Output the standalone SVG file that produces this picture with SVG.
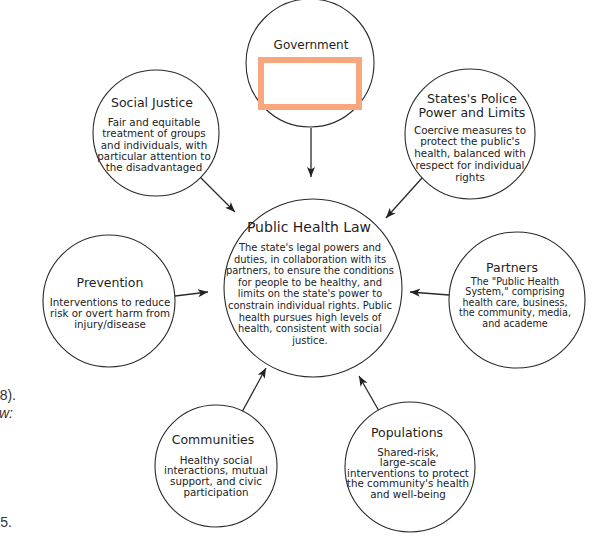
<svg xmlns="http://www.w3.org/2000/svg" width="592" height="541" viewBox="0 0 592 541">
<style>
.c{fill:#fff;stroke:#2a2a2a;stroke-width:1.1}
.t{font-family:"DejaVu Sans",sans-serif;font-size:12.5px;fill:#1e1e1e;text-anchor:middle}
.b{font-family:"DejaVu Sans",sans-serif;font-size:10.3px;fill:#222;text-anchor:middle}
.ct{font-size:14px}
.cb{font-size:9.9px}
.pb{font-size:9.6px}
.e{fill:none;stroke:#2a2a2a;stroke-width:1.3;marker-end:url(#ah)}
.s{font-family:"Liberation Sans",Arial,sans-serif;font-size:14px;fill:#333;text-anchor:end}
</style>
<defs>
<marker id="ah" markerUnits="userSpaceOnUse" markerWidth="11" markerHeight="9" refX="10" refY="4.5" orient="auto">
<path d="M0,0.5 L10,4.5 L0,8.5 L2.5,4.5 z" fill="#222"/>
</marker>
</defs>
<rect width="592" height="541" fill="#fff"/>
<g id="connectors">
<line class="e" x1="311" y1="128" x2="311" y2="177"/>
<line class="e" x1="200" y1="177" x2="235" y2="212"/>
<line class="e" x1="422" y1="178" x2="386" y2="218"/>
<line class="e" x1="175" y1="296" x2="208" y2="292"/>
<line class="e" x1="449" y1="295" x2="410" y2="292"/>
<line class="e" x1="242" y1="412" x2="266" y2="368"/>
<line class="e" x1="379" y1="411" x2="359" y2="376"/>
</g>
<g id="government">
<circle class="c" cx="310" cy="63" r="64"/>
<text class="t" x="311" y="49" style="font-size:12px">Government</text>
<rect x="261" y="60" width="98" height="47" fill="none" stroke="#F8A67E" stroke-width="6"/>
</g>
<g id="social-justice">
<circle class="c" cx="156" cy="133" r="63"/>
<text class="t" x="152" y="106.5">Social Justice</text>
<text class="b" x="154" y="126">Fair and equitable</text>
<text class="b" x="154" y="137.3">treatment of groups</text>
<text class="b" x="154" y="148.6">and individuals, with</text>
<text class="b" x="154" y="159.9">particular attention to</text>
<text class="b" x="154" y="171.2">the disadvantaged</text>
</g>
<g id="police-power">
<circle class="c" cx="470" cy="134" r="65"/>
<text class="t" x="472" y="102.5">States's Police</text>
<text class="t" x="472" y="116.5">Power and Limits</text>
<text class="b" x="470" y="133.5">Coercive measures to</text>
<text class="b" x="470" y="145.3">protect the public's</text>
<text class="b" x="470" y="157.1">health, balanced with</text>
<text class="b" x="470" y="168.9">respect for individual</text>
<text class="b" x="470" y="180.7">rights</text>
</g>
<g id="public-health-law">
<circle class="c" cx="313" cy="288" r="89"/>
<text class="t ct" x="309" y="232">Public Health Law</text>
<text class="b cb" x="310" y="251">The state's legal powers and</text>
<text class="b cb" x="310" y="262.6">duties, in collaboration with its</text>
<text class="b cb" x="310" y="274.2">partners, to ensure the conditions</text>
<text class="b cb" x="310" y="285.8">for people to be healthy, and</text>
<text class="b cb" x="310" y="297.4">limits on the state's power to</text>
<text class="b cb" x="310" y="309">constrain individual rights. Public</text>
<text class="b cb" x="310" y="320.6">health pursues high levels of</text>
<text class="b cb" x="310" y="332.2">health, consistent with social</text>
<text class="b cb" x="310" y="343.8">justice.</text>
</g>
<g id="prevention">
<circle class="c" cx="109" cy="301" r="66"/>
<text class="t" x="110" y="286.5">Prevention</text>
<text class="b" x="110" y="305.5">Interventions to reduce</text>
<text class="b" x="110" y="316.5">risk or overt harm from</text>
<text class="b" x="110" y="327.5">injury/disease</text>
</g>
<g id="partners">
<circle class="c" cx="517" cy="300" r="68"/>
<text class="t" x="512" y="272">Partners</text>
<text class="b pb" x="515" y="284.5">The "Public Health</text>
<text class="b pb" x="515" y="295.1">System," comprising</text>
<text class="b pb" x="515" y="305.7">health care, business,</text>
<text class="b pb" x="515" y="316.3">the community, media,</text>
<text class="b pb" x="515" y="326.9">and academe</text>
</g>
<g id="communities">
<circle class="c" cx="216" cy="466" r="61"/>
<text class="t" x="213" y="443.5">Communities</text>
<text class="b" x="216" y="463.5">Healthy social</text>
<text class="b" x="216" y="474.2">interactions, mutual</text>
<text class="b" x="216" y="484.9">support, and civic</text>
<text class="b" x="216" y="495.6">participation</text>
</g>
<g id="populations">
<circle class="c" cx="410" cy="467" r="65"/>
<text class="t" x="407" y="436.5">Populations</text>
<text class="b" x="408" y="455.5">Shared-risk,</text>
<text class="b" x="408" y="466.1">large-scale</text>
<text class="b" x="408" y="476.7">interventions to protect</text>
<text class="b" x="408" y="487.3">the community's health</text>
<text class="b" x="408" y="497.9">and well-being</text>
</g>
<g id="margin-text">
<text class="s" x="16" y="400">8).</text>
<text class="s" x="13" y="418" font-style="italic">w:</text>
<text class="s" x="12" y="527">5.</text>
</g>
</svg>
